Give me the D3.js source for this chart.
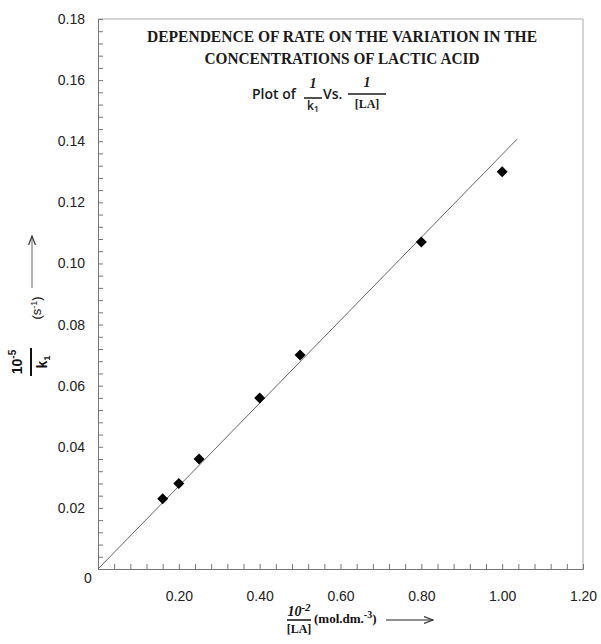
<!DOCTYPE html>
<html>
<head>
<meta charset="utf-8">
<script src="https://cdn.jsdelivr.net/npm/d3@7"></script>
<style>
  body { margin: 0; background: #fff; }
  svg { display: block; }
</style>
</head>
<body>
<div id="chart"></div>
<script>
const xVals = [0.16, 0.20, 0.25, 0.40, 0.50, 0.80, 1.00];
const yVals = [0.023, 0.028, 0.036, 0.056, 0.070, 0.107, 0.130];
const fitX = [0, 1.037];
const fitY = [0, 0.1407];
const xTicks = [0.2, 0.4, 0.6, 0.8, 1.0, 1.2];
const yTicks = [0.02, 0.04, 0.06, 0.08, 0.10, 0.12, 0.14, 0.16, 0.18];
const titleLines = ["DEPENDENCE OF RATE ON THE VARIATION IN THE", "CONCENTRATIONS OF LACTIC ACID"];

const width = 601, height = 644;
const margin = { top: 19, right: 18, bottom: 75, left: 98 };
const axisColor = "#777";
const textColor = "#222";

const svg = d3.select("#chart").append("svg")
    .attr("width", width)
    .attr("height", height);

const x = d3.scaleLinear().domain([0, 1.2]).range([margin.left, width - margin.right]);
const y = d3.scaleLinear().domain([0, 0.18]).range([height - margin.bottom, margin.top]);

// frame
svg.append("line").attr("x1", x(0)).attr("x2", x(1.2)).attr("y1", y(0.18)).attr("y2", y(0.18))
    .attr("stroke", "#aaa");
svg.append("line").attr("x1", x(1.2)).attr("x2", x(1.2)).attr("y1", y(0)).attr("y2", y(0.18))
    .attr("stroke", "#aaa");

// minor + major ticks, pointing inward
svg.append("g")
    .attr("transform", `translate(0,${y(0)})`)
    .call(d3.axisBottom(x).tickValues(d3.range(1, 30).map(i => i * 0.04)).tickSize(-5).tickFormat(""))
    .call(g => g.selectAll("line").attr("stroke", axisColor))
    .call(g => g.select(".domain").attr("stroke", axisColor));

svg.append("g")
    .attr("transform", `translate(${x(0)},0)`)
    .call(d3.axisLeft(y).tickValues(d3.range(1, 45).map(i => i * 0.004)).tickSize(-5).tickFormat(""))
    .call(g => g.selectAll("line").attr("stroke", axisColor))
    .call(g => g.select(".domain").attr("stroke", axisColor));

// tick labels
svg.append("g")
    .attr("transform", `translate(0,${y(0)})`)
    .call(d3.axisBottom(x).tickValues(xTicks).tickSize(0).tickPadding(22).tickFormat(d3.format(".2f")))
    .call(g => g.select(".domain").remove())
    .call(g => g.selectAll("text").attr("font-family", "Liberation Sans, Arial").attr("font-size", 14).attr("fill", textColor));

svg.append("g")
    .attr("transform", `translate(${x(0) - 13},0)`)
    .call(d3.axisLeft(y).tickValues(yTicks).tickSize(0).tickPadding(0).tickFormat(d3.format(".2f")))
    .call(g => g.select(".domain").remove())
    .call(g => g.selectAll("text").attr("font-family", "Liberation Sans, Arial").attr("font-size", 14).attr("fill", textColor));

svg.append("text")
    .attr("x", x(0) - 10).attr("y", y(0) + 14)
    .attr("text-anchor", "middle")
    .attr("font-family", "Liberation Sans, Arial").attr("font-size", 14).attr("fill", textColor)
    .text("0");

// fitted line
svg.append("line")
    .attr("x1", x(fitX[0])).attr("y1", y(fitY[0]))
    .attr("x2", x(fitX[1])).attr("y2", y(fitY[1]))
    .attr("stroke", "#666").attr("stroke-width", 1);

// points
svg.append("g").selectAll("path")
    .data(xVals.map((v, i) => [v, yVals[i]]))
    .join("path")
    .attr("transform", d => `translate(${x(d[0])},${y(d[1])})`)
    .attr("d", "M0,-5.5L5.5,0L0,5.5L-5.5,0Z")
    .attr("fill", "#000");

// title
const titleWidths = [390, 275];
svg.append("g").selectAll("text")
    .data(titleLines)
    .join("text")
    .attr("x", 342)
    .attr("y", (d, i) => 42 + i * 21.5)
    .attr("text-anchor", "middle")
    .attr("font-family", "Liberation Serif, serif")
    .attr("font-weight", "bold")
    .attr("font-size", 16.5)
    .attr("fill", "#1a1a1a")
    .attr("textLength", (d, i) => titleWidths[i])
    .attr("lengthAdjust", "spacingAndGlyphs")
    .text(d => d);

// subtitle: Plot of 1/k1 Vs. 1/[LA]
const sub = svg.append("g").attr("fill", "#1a1a1a");
sub.append("text").attr("x", 252).attr("y", 99)
    .attr("font-family", "Open Sans, sans-serif").attr("font-weight", 600).attr("font-size", 14)
    .text("Plot of");
sub.append("text").attr("x", 313).attr("y", 88).attr("text-anchor", "middle")
    .attr("font-family", "Liberation Serif, serif").attr("font-style", "italic").attr("font-weight", "bold").attr("font-size", 14)
    .text("1");
sub.append("line").attr("x1", 304).attr("x2", 322).attr("y1", 98).attr("y2", 98).attr("stroke", "#1a1a1a").attr("stroke-width", 1.5);
sub.append("text").attr("x", 313).attr("y", 110).attr("text-anchor", "middle")
    .attr("font-family", "Open Sans, sans-serif").attr("font-weight", 600).attr("font-size", 12)
    .call(t => { t.append("tspan").text("k"); t.append("tspan").attr("font-size", 9).attr("dy", 2).text("1"); });
sub.append("text").attr("x", 323).attr("y", 99)
    .attr("font-family", "Open Sans, sans-serif").attr("font-weight", 600).attr("font-size", 14)
    .text("Vs.");
sub.append("text").attr("x", 367).attr("y", 87).attr("text-anchor", "middle")
    .attr("font-family", "Liberation Serif, serif").attr("font-style", "italic").attr("font-weight", "bold").attr("font-size", 14)
    .text("1");
sub.append("line").attr("x1", 348).attr("x2", 386).attr("y1", 94).attr("y2", 94).attr("stroke", "#1a1a1a").attr("stroke-width", 1.5);
sub.append("text").attr("x", 367).attr("y", 108).attr("text-anchor", "middle")
    .attr("font-family", "Liberation Serif, serif").attr("font-weight", "bold").attr("font-size", 12)
    .text("[LA]");

// arrow marker
svg.append("defs").append("marker")
    .attr("id", "arrow")
    .attr("markerWidth", 10).attr("markerHeight", 8)
    .attr("refX", 9).attr("refY", 4)
    .attr("orient", "auto")
    .attr("markerUnits", "userSpaceOnUse")
    .append("path")
    .attr("d", "M0,0.5 L9,4 L0,7.5")
    .attr("fill", "none").attr("stroke", "#333").attr("stroke-width", 1.2);

// y label (rotated)
const yl = svg.append("g").attr("transform", "rotate(-90)").attr("fill", "#111");
yl.append("text").attr("x", -362).attr("y", 22).attr("text-anchor", "middle")
    .attr("font-family", "Liberation Sans, Arial").attr("font-weight", "bold").attr("font-size", 14)
    .call(t => { t.append("tspan").text("10"); t.append("tspan").attr("font-size", 10).attr("dy", -6).text("-5"); });
yl.append("line").attr("x1", -376).attr("x2", -348).attr("y1", 31).attr("y2", 31).attr("stroke", "#111").attr("stroke-width", 2);
yl.append("text").attr("x", -362).attr("y", 47).attr("text-anchor", "middle")
    .attr("font-family", "Liberation Sans, Arial").attr("font-weight", "bold").attr("font-size", 14)
    .call(t => { t.append("tspan").text("k"); t.append("tspan").attr("font-size", 9).attr("dy", 3).text("1"); });
yl.append("text").attr("x", -308).attr("y", 41).attr("text-anchor", "middle")
    .attr("font-family", "Liberation Sans, Arial").attr("font-size", 13)
    .call(t => { t.append("tspan").text("(s"); t.append("tspan").attr("font-size", 9).attr("dy", -4).text("-1"); t.append("tspan").attr("dy", 4).text(")"); });
svg.append("line").attr("x1", 32).attr("x2", 32).attr("y1", 288).attr("y2", 236)
    .attr("stroke", "#666").attr("stroke-width", 1).attr("marker-end", "url(#arrow)");

// x label
const xl = svg.append("g").attr("fill", "#111");
xl.append("text").attr("x", 299).attr("y", 616).attr("text-anchor", "middle")
    .attr("font-family", "Liberation Serif, serif").attr("font-style", "italic").attr("font-weight", "bold").attr("font-size", 14)
    .call(t => { t.append("tspan").text("10"); t.append("tspan").attr("font-size", 11).attr("dy", -5).text("-2"); });
xl.append("line").attr("x1", 287).attr("x2", 311).attr("y1", 620).attr("y2", 620).attr("stroke", "#111").attr("stroke-width", 1.5);
xl.append("text").attr("x", 299).attr("y", 633).attr("text-anchor", "middle")
    .attr("font-family", "Liberation Serif, serif").attr("font-weight", "bold").attr("font-size", 12)
    .text("[LA]");
xl.append("text").attr("x", 314).attr("y", 623)
    .attr("font-family", "Liberation Serif, serif").attr("font-weight", "bold").attr("font-size", 13)
    .call(t => { t.append("tspan").text("(mol.dm."); t.append("tspan").attr("font-size", 10).attr("dy", -5).text("-3"); t.append("tspan").attr("dy", 5).text(")"); });
svg.append("line").attr("x1", 386).attr("x2", 433).attr("y1", 620).attr("y2", 620)
    .attr("stroke", "#222").attr("stroke-width", 1.2).attr("marker-end", "url(#arrow)");
</script>
</body>
</html>
